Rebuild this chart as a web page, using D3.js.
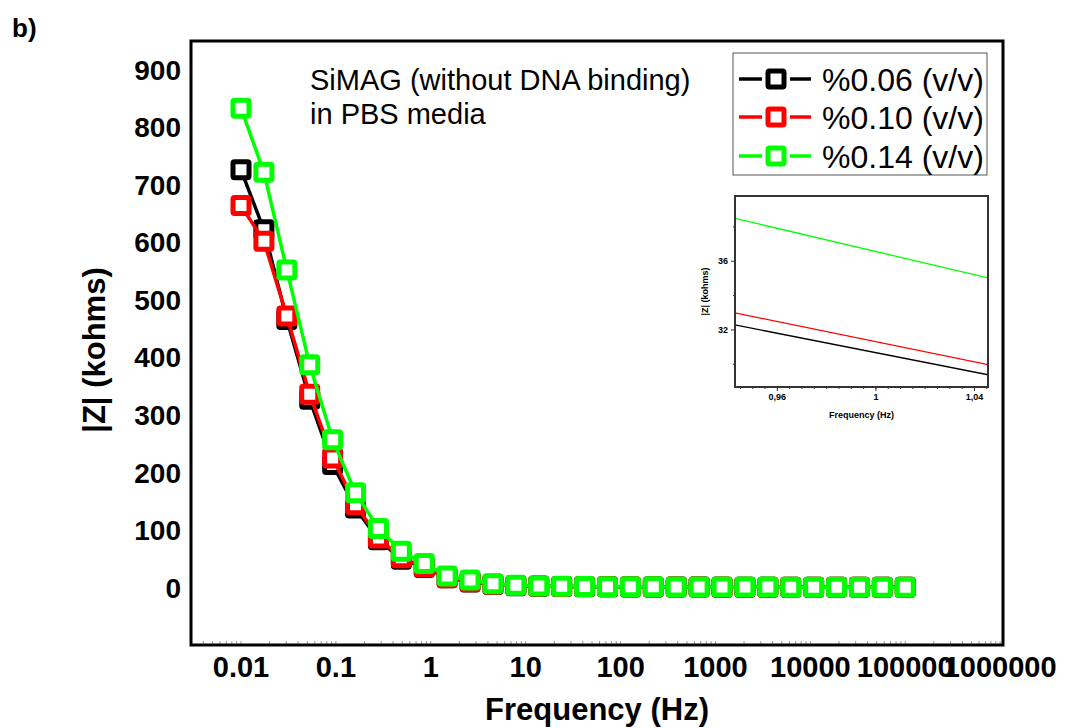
<!DOCTYPE html>
<html>
<head>
<meta charset="utf-8">
<script src="https://cdn.jsdelivr.net/npm/d3@7"></script>
<style>
  body { margin: 0; background: #fff; }
  text { font-family: "Liberation Sans", Arial, sans-serif; }
</style>
</head>
<body>
<div id="plot"></div>
<script>
// Frequencies (Hz), 30 points, 0.01 Hz .. 100 kHz
var freqs = [0.01, 0.01743, 0.03039, 0.05298, 0.09237, 0.1610, 0.2807, 0.4894, 0.8532, 1.487,
             2.593, 4.520, 7.880, 13.74, 23.95, 41.75, 72.79, 126.9, 221.2, 385.7,
             672.4, 1172, 2043, 3562, 6210, 10826, 18874, 32903, 57362, 100000];

// |Z| in kohms
var z006 = [726, 622, 466, 327, 214, 138, 83, 49, 34.8, 16.9,
            9.5, 5.2, 3.2, 2.2, 1.7, 1.4, 1.2, 1.0, 0.9, 0.8,
            0.7, 0.6, 0.6, 0.5, 0.5, 0.5, 0.4, 0.4, 0.4, 0.4];
var z010 = [664, 602, 472, 336, 225, 144, 86, 51.6, 35.6, 17.0,
            10.0, 5.6, 3.5, 2.4, 1.8, 1.5, 1.3, 1.1, 1.0, 0.9,
            0.8, 0.7, 0.6, 0.6, 0.5, 0.5, 0.5, 0.4, 0.4, 0.4];
var z014 = [833, 722, 552, 387, 257, 164.5, 102.5, 63, 41.5, 20.1,
            13.0, 6.5, 3.8, 2.6, 2.0, 1.7, 1.4, 1.2, 1.1, 1.0,
            0.9, 0.8, 0.7, 0.7, 0.6, 0.6, 0.5, 0.5, 0.5, 0.5];

var seriesNames = ['%0.06 (v/v)', '%0.10 (v/v)', '%0.14 (v/v)'];
var seriesColors = ['#000000', '#ff0000', '#00ff00'];

var xTicks = [0.01, 0.1, 1, 10, 100, 1000, 10000, 100000, 1000000];
var xTickLabels = ['0.01', '0.1', '1', '10', '100', '1000', '10000', '100000', '1000000'];
var yTicks = [0, 100, 200, 300, 400, 500, 600, 700, 800, 900];

var insetXTicks = [0.96, 1, 1.04];
var insetXTickLabels = ['0,96', '1', '1,04'];
var insetYTicks = [32, 36];

var width = 1076, height = 728;

var series = [z006, z010, z014].map(function(vals, i) {
    return {
        name: seriesNames[i],
        color: seriesColors[i],
        points: vals.map(function(v, j) { return { f: freqs[j], z: v }; })
    };
});

var svg = d3.select('#plot')
    .append('svg')
    .attr('width', width)
    .attr('height', height);

// Main plot area
var pLeft = 191, pRight = 1003, pTop = 41, pBottom = 645;

var x = d3.scaleLog()
    .domain([Math.pow(10, -2.527), Math.pow(10, 6.03)])
    .range([pLeft, pRight]);

var y = d3.scaleLinear()
    .domain([-100, 950])
    .range([pBottom, pTop]);

svg.append('text')
    .attr('x', 12)
    .attr('y', 37)
    .attr('font-size', 26)
    .attr('font-weight', 'bold')
    .text('b)');

// Minor ticks along bottom edge
var minor = [];
for (var e = -3; e <= 6; e++) {
    for (var k = 1; k < 10; k++) {
        var v = k * Math.pow(10, e);
        if (v >= x.domain()[0] && v <= x.domain()[1]) minor.push(v);
    }
}
svg.append('g')
    .selectAll('line')
    .data(minor)
    .enter()
    .append('line')
    .attr('x1', function(d) { return x(d); })
    .attr('x2', function(d) { return x(d); })
    .attr('y1', pBottom - 4)
    .attr('y2', pBottom)
    .attr('stroke', '#999')
    .attr('stroke-width', 1);

// Frame
svg.append('rect')
    .attr('x', pLeft)
    .attr('y', pTop)
    .attr('width', pRight - pLeft)
    .attr('height', pBottom - pTop)
    .attr('fill', 'none')
    .attr('stroke', '#000')
    .attr('stroke-width', 3);

// Y tick labels
svg.append('g')
    .selectAll('text')
    .data(yTicks)
    .enter()
    .append('text')
    .attr('x', 181)
    .attr('y', function(d) { return y(d); })
    .attr('dy', '0.36em')
    .attr('text-anchor', 'end')
    .attr('font-size', 28)
    .attr('font-weight', 'bold')
    .text(function(d) { return d; });

// X tick labels
svg.append('g')
    .selectAll('text')
    .data(xTicks)
    .enter()
    .append('text')
    .attr('x', function(d) { return x(d); })
    .attr('y', 677)
    .attr('text-anchor', 'middle')
    .attr('font-size', 29)
    .attr('font-weight', 'bold')
    .text(function(d, i) { return xTickLabels[i]; });

// Axis titles
svg.append('text')
    .attr('x', 597)
    .attr('y', 720)
    .attr('text-anchor', 'middle')
    .attr('font-size', 31)
    .attr('font-weight', 'bold')
    .text('Frequency (Hz)');

svg.append('text')
    .attr('transform', 'translate(105,350) rotate(-90)')
    .attr('text-anchor', 'middle')
    .attr('font-size', 31)
    .attr('font-weight', 'bold')
    .text('|Z| (kohms)');

// Annotation
var note = svg.append('text')
    .attr('font-size', 29);
note.append('tspan').attr('x', 310).attr('y', 90).text('SiMAG (without DNA binding)');
note.append('tspan').attr('x', 310).attr('y', 124).text('in PBS media');

// Series
var lineGen = d3.line()
    .x(function(d) { return x(d.f); })
    .y(function(d) { return y(d.z); });

series.forEach(function(s) {
    var g = svg.append('g');
    g.append('path')
        .attr('d', lineGen(s.points))
        .attr('fill', 'none')
        .attr('stroke', s.color)
        .attr('stroke-width', 3.5);
    g.selectAll('rect')
        .data(s.points)
        .enter()
        .append('rect')
        .attr('x', function(d) { return x(d.f) - 8; })
        .attr('y', function(d) { return y(d.z) - 8; })
        .attr('width', 16)
        .attr('height', 16)
        .attr('rx', 1.5)
        .attr('fill', '#fff')
        .attr('stroke', s.color)
        .attr('stroke-width', 5);
});

// Legend
var legend = svg.append('g');
legend.append('rect')
    .attr('x', 733)
    .attr('y', 53)
    .attr('width', 254)
    .attr('height', 122)
    .attr('fill', '#fff')
    .attr('stroke', '#555')
    .attr('stroke-width', 1);

var rows = legend.selectAll('g')
    .data(series)
    .enter()
    .append('g')
    .attr('transform', function(d, i) { return 'translate(0,' + [79, 117, 156][i] + ')'; });

rows.append('line')
    .attr('x1', 739).attr('x2', 762)
    .attr('y1', 0).attr('y2', 0)
    .attr('stroke', function(d) { return d.color; })
    .attr('stroke-width', 3.5);
rows.append('line')
    .attr('x1', 790).attr('x2', 811)
    .attr('y1', 0).attr('y2', 0)
    .attr('stroke', function(d) { return d.color; })
    .attr('stroke-width', 3.5);
rows.append('rect')
    .attr('x', 776 - 8).attr('y', -8)
    .attr('width', 16).attr('height', 16)
    .attr('rx', 1.5)
    .attr('fill', '#fff')
    .attr('stroke', function(d) { return d.color; })
    .attr('stroke-width', 5);
rows.append('text')
    .attr('x', 822)
    .attr('y', 0)
    .attr('dy', '0.36em')
    .attr('font-size', 32)
    .text(function(d) { return d.name; });

// Inset
var il = 735, ir = 988, it = 196, ib = 387;
var xi = d3.scaleLinear().domain([0.943, 1.0457]).range([il, ir]);
var yi = d3.scaleLinear().domain([28.65, 39.77]).range([ib, it]);

var inset = svg.append('g');
inset.append('rect')
    .attr('x', il).attr('y', it)
    .attr('width', ir - il).attr('height', ib - it)
    .attr('fill', '#fff');

svg.append('defs').append('clipPath')
    .attr('id', 'inset-clip')
    .append('rect')
    .attr('x', il).attr('y', it)
    .attr('width', ir - il).attr('height', ib - it);

var insetLine = d3.line()
    .x(function(d) { return xi(d.f); })
    .y(function(d) { return yi(d.z); });

inset.append('g')
    .attr('clip-path', 'url(#inset-clip)')
    .selectAll('path')
    .data(series)
    .enter()
    .append('path')
    .attr('d', function(d) { return insetLine(d.points.slice(7, 11)); })
    .attr('fill', 'none')
    .attr('stroke', function(d) { return d.color; })
    .attr('stroke-width', 1.3);

inset.append('rect')
    .attr('x', il).attr('y', it)
    .attr('width', ir - il).attr('height', ib - it)
    .attr('fill', 'none')
    .attr('stroke', '#333')
    .attr('stroke-width', 2);

var xiAxis = d3.axisBottom(xi)
    .tickValues(insetXTicks)
    .tickSize(4)
    .tickFormat(function(d, i) { return insetXTickLabels[i]; });
var xiMinor = d3.axisBottom(xi)
    .tickValues(d3.range(0.945, 1.046, 0.005))
    .tickSize(2)
    .tickFormat('');
var yiAxis = d3.axisLeft(yi)
    .tickValues(insetYTicks)
    .tickSize(4)
    .tickFormat(function(d) { return d; });
var yiMinor = d3.axisLeft(yi)
    .tickValues([30, 34, 38])
    .tickSize(2)
    .tickFormat('');

[xiMinor, xiAxis].forEach(function(a) {
    inset.append('g')
        .attr('transform', 'translate(0,' + ib + ')')
        .call(a);
});
[yiMinor, yiAxis].forEach(function(a) {
    inset.append('g')
        .attr('transform', 'translate(' + il + ',0)')
        .call(a);
});
inset.selectAll('.domain').remove();
inset.selectAll('.tick line').attr('stroke', '#333');
inset.selectAll('.tick text')
    .attr('font-family', '"Liberation Sans", Arial, sans-serif')
    .attr('font-size', 9)
    .attr('font-weight', 'bold')
    .attr('fill', '#000');

inset.append('text')
    .attr('x', (il + ir) / 2)
    .attr('y', 418)
    .attr('text-anchor', 'middle')
    .attr('font-size', 9)
    .attr('font-weight', 'bold')
    .text('Frequency (Hz)');
inset.append('text')
    .attr('transform', 'translate(708,' + ((it + ib) / 2) + ') rotate(-90)')
    .attr('text-anchor', 'middle')
    .attr('font-size', 9)
    .attr('font-weight', 'bold')
    .text('|Z| (kohms)');
</script>
</body>
</html>
